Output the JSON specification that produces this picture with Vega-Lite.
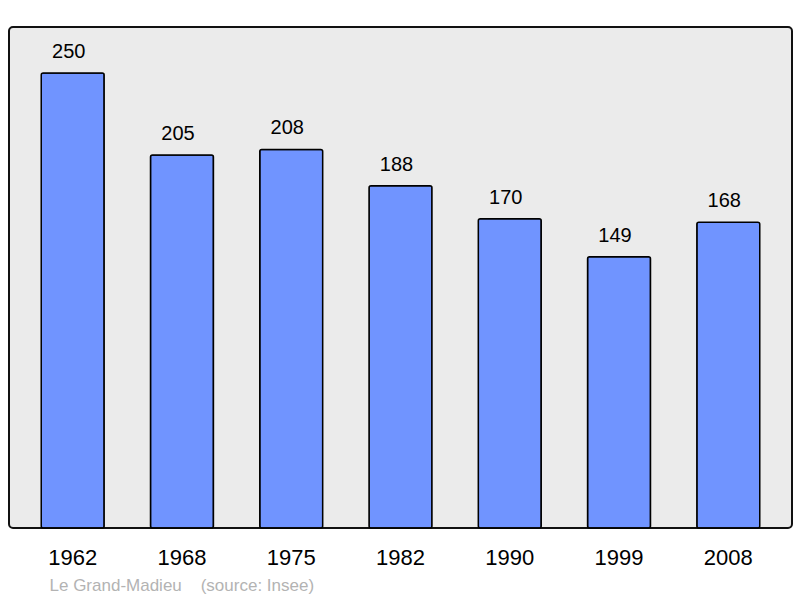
{
  "$schema": "https://vega.github.io/schema/vega-lite/v6.json",
  "width": 783,
  "height": 501,
  "padding": {"left": 9, "top": 27, "right": 8, "bottom": 70},
  "autosize": {"type": "none"},
  "background": "#ffffff",
  "config": {
    "view": {"fill": "#ebebeb", "stroke": "#111111", "strokeWidth": 2, "cornerRadius": 4},
    "font": "Liberation Sans"
  },
  "data": {
    "values": [
      {"year": "1962", "pop": 250},
      {"year": "1968", "pop": 205},
      {"year": "1975", "pop": 208},
      {"year": "1982", "pop": 188},
      {"year": "1990", "pop": 170},
      {"year": "1999", "pop": 149},
      {"year": "2008", "pop": 168}
    ]
  },
  "encoding": {
    "x": {
      "field": "year",
      "type": "nominal",
      "sort": null,
      "scale": {"paddingInner": 0.424, "paddingOuter": 0.295},
      "axis": {
        "title": "Le Grand-Madieu\u00a0\u00a0\u00a0\u00a0(source: Insee)",
        "titleFont": "Liberation Sans",
        "titleFontSize": 17,
        "titleFontWeight": "normal",
        "titleColor": "#b3b3b3",
        "titleAlign": "left",
        "titleAnchor": "start",
        "titleBaseline": "middle",
        "titleX": 40,
        "titleY": 57,
        "labelFont": "Liberation Sans",
        "labelFontSize": 22,
        "labelColor": "#000000",
        "labelAngle": 0,
        "labelBaseline": "middle",
        "labelPadding": 29,
        "ticks": false,
        "domain": false,
        "grid": false
      }
    },
    "y": {
      "field": "pop",
      "type": "quantitative",
      "scale": {"domain": [0, 275.3], "nice": false},
      "axis": null
    }
  },
  "layer": [
    {
      "mark": {"type": "bar", "fill": "#7094ff", "stroke": "#000000", "strokeWidth": 1.5, "cornerRadius": 2}
    },
    {
      "mark": {"type": "text", "dy": -21, "dx": -4, "baseline": "middle", "fontSize": 20, "font": "Liberation Sans", "color": "#000000"},
      "encoding": {"text": {"field": "pop", "type": "quantitative"}}
    }
  ]
}
